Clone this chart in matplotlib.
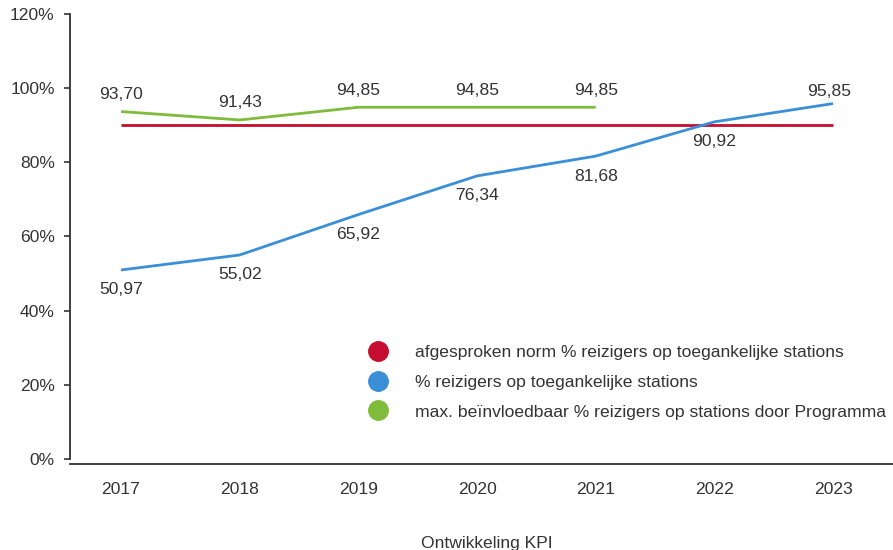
import matplotlib.pyplot as plt
from matplotlib.lines import Line2D

years = ["2017", "2018", "2019", "2020", "2021", "2022", "2023"]
norm = [90, 90, 90, 90, 90, 90, 90]
blue_vals = [50.97, 55.02, 65.92, 76.34, 81.68, 90.92, 95.85]
green_vals = [93.70, 91.43, 94.85, 94.85, 94.85]
y_ticks = [0, 20, 40, 60, 80, 100, 120]

RED = "#c40d2f"
BLUE = "#3a8fd6"
GREEN = "#80bc3c"
TXT = "#333333"

plt.rcParams['font.family'] = ['Liberation Sans', 'DejaVu Sans']
plt.rcParams['font.size'] = 12.6

fig = plt.figure(figsize=(8.93, 5.5), dpi=100)
ax = fig.add_axes([0.0784, 0.1564, 0.9216, 0.8181])

x = list(range(len(years)))
ax.plot(x, norm, color=RED, lw=2.0, solid_capstyle='butt')
ax.plot(x, blue_vals, color=BLUE, lw=2.0, solid_capstyle='butt')
ax.plot(x[:len(green_vals)], green_vals, color=GREEN, lw=2.0, solid_capstyle='butt')


def fmt(v):
    return f"{v:.2f}".replace(".", ",")


for i, v in enumerate(green_vals):
    ax.annotate(fmt(v), (i, v), xytext=(0, 7), textcoords='offset points',
                ha='center', va='bottom', color=TXT)
for i, v in enumerate(blue_vals):
    if i == len(blue_vals) - 1:
        ax.annotate(fmt(v), (i, v), xytext=(-3, 3), textcoords='offset points',
                    ha='center', va='bottom', color=TXT)
    else:
        ax.annotate(fmt(v), (i, v), xytext=(0, -9), textcoords='offset points',
                    ha='center', va='top', color=TXT)

ax.set_xlim(-0.43, 6.505)
ax.set_ylim(-1.35, 120)
ax.set_xticks(x)
ax.set_xticklabels(years, color=TXT)
ax.set_yticks(y_ticks)
ax.set_yticklabels([f"{t}%" for t in y_ticks], color=TXT)
ax.tick_params(axis='x', length=0, pad=13)
ax.tick_params(axis='y', length=4, width=1.2, color=TXT, pad=7)

for s in ['top', 'right']:
    ax.spines[s].set_visible(False)
ax.spines['left'].set_color(TXT)
ax.spines['bottom'].set_color(TXT)
ax.spines['left'].set_linewidth(1.3)
ax.spines['bottom'].set_linewidth(1.3)
ax.spines['left'].set_bounds(0, 120)

handles = [Line2D([], [], ls='none', marker='o', markersize=14, color=c) for c in (RED, BLUE, GREEN)]
labels = ["afgesproken norm % reizigers op toegankelijke stations",
          "% reizigers op toegankelijke stations",
          "max. beïnvloedbaar % reizigers op stations door Programma"]
fig.legend(handles, labels, loc='upper left', bbox_to_anchor=(0.404, 0.389),
           frameon=False, labelspacing=0.83, handletextpad=1.6, borderpad=0,
           handlelength=1.0, labelcolor=TXT)

fig.text(0.545, 0.0127, "Ontwikkeling KPI", ha='center', va='center', color=TXT)

fig.savefig("out.png", dpi=100)
